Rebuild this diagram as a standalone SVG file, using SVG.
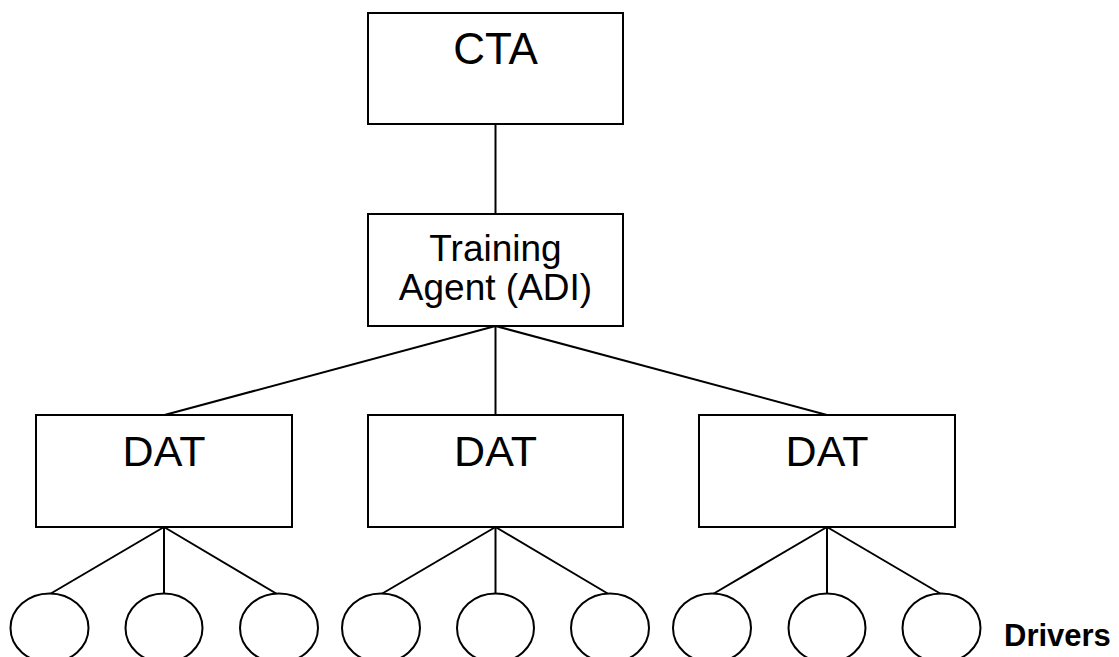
<svg xmlns="http://www.w3.org/2000/svg" width="1119" height="657" viewBox="0 0 1119 657">
<style>
.box{fill:#fff;stroke:#000;stroke-width:2}
.drv{fill:#fff;stroke:#000;stroke-width:2}
.con{stroke:#000;stroke-width:2;fill:none}
.t{font-family:"Liberation Sans",Arial,sans-serif;fill:#000;text-anchor:middle}
</style>
<rect width="1119" height="657" fill="#fff"/>
<g id="connectors">
<line class="con" x1="495.5" y1="124" x2="495.5" y2="214"/>
<line class="con" x1="495.5" y1="326" x2="164.5" y2="415"/>
<line class="con" x1="495.5" y1="326" x2="495.5" y2="415"/>
<line class="con" x1="495.5" y1="326" x2="827" y2="415"/>
<line class="con" x1="164" y1="527" x2="50" y2="594"/>
<line class="con" x1="164" y1="527" x2="164" y2="594"/>
<line class="con" x1="164" y1="527" x2="277" y2="594"/>
<line class="con" x1="495.5" y1="527" x2="381.5" y2="594"/>
<line class="con" x1="495.5" y1="527" x2="495.5" y2="594"/>
<line class="con" x1="495.5" y1="527" x2="608.5" y2="594"/>
<line class="con" x1="827" y1="527" x2="713" y2="594"/>
<line class="con" x1="827" y1="527" x2="827" y2="594"/>
<line class="con" x1="827" y1="527" x2="941" y2="594"/>
</g>
<g id="cta">
<rect class="box" x="368" y="13" width="255" height="111"/>
<text class="t" x="495.5" y="64" font-size="44">CTA</text>
</g>
<g id="training-agent">
<rect class="box" x="368" y="214" width="255" height="112"/>
<text class="t" x="495.5" y="261" font-size="37">Training</text>
<text class="t" x="495.5" y="300" font-size="37">Agent (ADI)</text>
</g>
<g id="dat1">
<rect class="box" x="36" y="415" width="256" height="112"/>
<text class="t" x="164" y="466" font-size="43">DAT</text>
</g>
<g id="dat2">
<rect class="box" x="368" y="415" width="255" height="112"/>
<text class="t" x="495.5" y="466" font-size="43">DAT</text>
</g>
<g id="dat3">
<rect class="box" x="699" y="415" width="256" height="112"/>
<text class="t" x="827" y="466" font-size="43">DAT</text>
</g>
<g id="driver1"><ellipse class="drv" cx="49.5" cy="628" rx="39" ry="34.5"/></g>
<g id="driver2"><ellipse class="drv" cx="164" cy="628" rx="38.5" ry="34.5"/></g>
<g id="driver3"><ellipse class="drv" cx="279" cy="628" rx="39" ry="34.5"/></g>
<g id="driver4"><ellipse class="drv" cx="381" cy="628" rx="39" ry="34.5"/></g>
<g id="driver5"><ellipse class="drv" cx="495.5" cy="628" rx="38.5" ry="34.5"/></g>
<g id="driver6"><ellipse class="drv" cx="610" cy="628" rx="39" ry="34.5"/></g>
<g id="driver7"><ellipse class="drv" cx="712" cy="628" rx="39" ry="34.5"/></g>
<g id="driver8"><ellipse class="drv" cx="827" cy="628" rx="38.5" ry="34.5"/></g>
<g id="driver9"><ellipse class="drv" cx="941.5" cy="628" rx="39" ry="34.5"/></g>
<g id="drivers-label">
<text x="1004" y="646" font-family="Liberation Sans, Arial, sans-serif" font-weight="bold" font-size="31" fill="#000">Drivers</text>
</g>
</svg>
